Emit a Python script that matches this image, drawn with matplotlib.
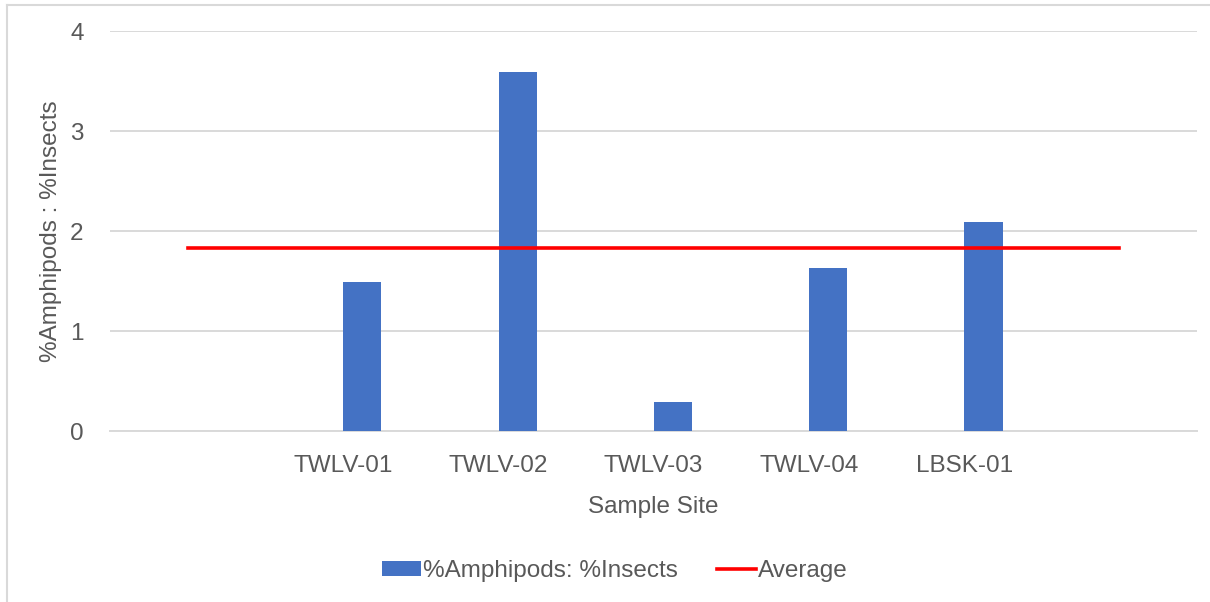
import numpy as np
import matplotlib
matplotlib.use('Agg')
import matplotlib.pyplot as plt
from matplotlib.lines import Line2D

# categories (Excel chart has a blank slot on each side)
sites = ['', 'TWLV-01', 'TWLV-02', 'TWLV-03', 'TWLV-04', 'LBSK-01', '']
ratio = [0, 1.49, 3.59, 0.29, 1.63, 2.09, 0]
average = [1.83, 1.83, 1.83, 1.83, 1.83, 1.83, 1.83]

txt = '#595959'
grid = '#d9d9d9'
plt.rcParams['font.family'] = ['Liberation Sans', 'DejaVu Sans']
fs = 17.5

W, H = 1210, 602
fig = plt.figure(figsize=(W / 100, H / 100), dpi=100)
ax = fig.add_axes([110 / W, 1 - 431 / H, 1087 / W, 400 / H])

x = np.arange(len(sites))
bars = ax.bar(x + 0.125, ratio, width=0.245, color='#4472c4', zorder=3,
              label='%Amphipods: %Insects')
avg_line, = ax.plot(x, average, color='#ff0000', linewidth=2.6, zorder=4,
                    label='Average')

ax.set_xlim(-0.5, len(sites) - 0.5)
ax.set_ylim(0, 4)
ax.set_yticks([0, 1, 2, 3, 4])
ax.set_xticks(x)
ax.set_xticklabels(sites)
ax.yaxis.grid(True, color=grid, linewidth=1.4, zorder=0)
ax.tick_params(length=0, labelsize=fs, colors=txt)
ax.tick_params(axis='x', pad=17)
ax.tick_params(axis='y', pad=19)
for s in ['top', 'right', 'left']:
    ax.spines[s].set_visible(False)
ax.spines['bottom'].set_color(grid)
ax.spines['bottom'].set_linewidth(1.4)

ax.set_xlabel('Sample Site', fontsize=fs, color=txt, labelpad=14)
ax.set_ylabel('%Amphipods : %Insects', fontsize=fs, color=txt, labelpad=6)

leg = fig.legend([bars, avg_line], ['%Amphipods: %Insects', 'Average'],
                 loc='center', bbox_to_anchor=(615 / W, 1 - 571 / H), ncol=2,
                 frameon=False, fontsize=fs, handlelength=1.6, handleheight=0.55,
                 handletextpad=0.1, columnspacing=1.6)
for t in leg.get_texts():
    t.set_color(txt)

# chart area border (left and top visible)
fig.add_artist(Line2D([7 / W, 7 / W], [0, 1 - 5 / H], transform=fig.transFigure,
                      color='#d9d9d9', linewidth=1.5))
fig.add_artist(Line2D([7 / W, 1], [1 - 5 / H, 1 - 5 / H], transform=fig.transFigure,
                      color='#d9d9d9', linewidth=1.5))

fig.savefig('out.png', dpi=100)
